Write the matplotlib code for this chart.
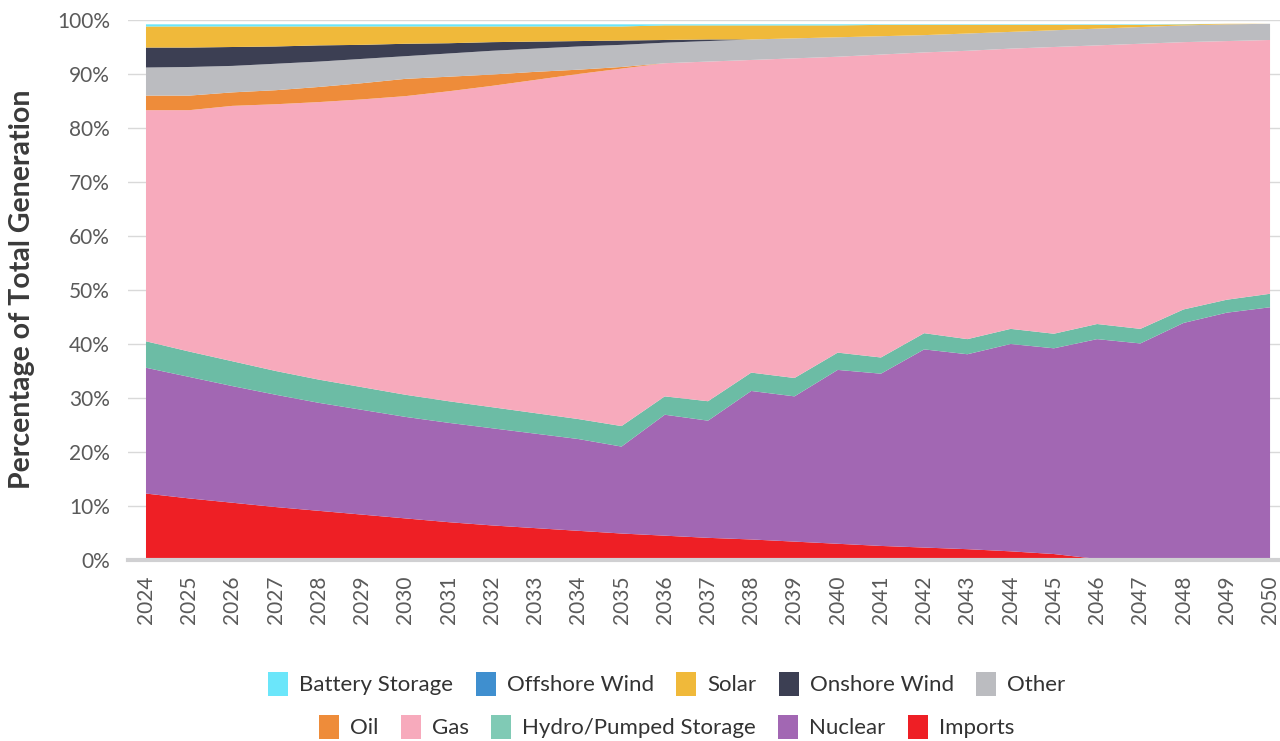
import numpy as np
import matplotlib
matplotlib.use("Agg")
import matplotlib.pyplot as plt
from matplotlib.patches import Patch

plt.rcParams['font.family'] = ['Lato', 'DejaVu Sans']

# Share of total generation (%), 2024-2050
years = list(range(2024, 2051))

imports = [12.3, 11.4, 10.6, 9.8, 9.1, 8.4, 7.7, 7.0, 6.4, 5.9, 5.4, 4.9, 4.5, 4.1,
           3.8, 3.4, 3.0, 2.6, 2.3, 2.0, 1.6, 1.1, 0.2, 0.0, 0.0, 0.0, 0.0]
nuclear = [23.3, 22.5, 21.6, 20.8, 20.0, 19.4, 18.8, 18.4, 18.0, 17.5, 17.0, 16.1, 22.4, 21.7,
           27.5, 26.9, 32.2, 31.9, 36.7, 36.1, 38.4, 38.1, 40.7, 40.1, 43.9, 45.8, 46.8]
hydro = [4.9, 4.7, 4.6, 4.4, 4.3, 4.2, 4.1, 4.0, 3.9, 3.8, 3.7, 3.8, 3.4, 3.6,
         3.4, 3.4, 3.2, 3.0, 3.0, 2.8, 2.8, 2.7, 2.8, 2.7, 2.5, 2.4, 2.5]
gas = [42.8, 44.7, 47.3, 49.4, 51.4, 53.3, 55.3, 57.4, 59.5, 61.7, 63.9, 66.2, 61.7, 62.9,
       57.9, 59.2, 54.8, 56.1, 52.0, 53.4, 51.9, 53.1, 51.6, 52.8, 49.5, 47.9, 47.0]
oil = [2.7, 2.7, 2.5, 2.6, 2.8, 3.0, 3.2, 2.7, 2.1, 1.5, 0.8, 0.3, 0.0, 0.0,
       0.0, 0.0, 0.0, 0.0, 0.0, 0.0, 0.0, 0.0, 0.0, 0.0, 0.0, 0.0, 0.0]
other = [5.2, 5.3, 4.9, 4.9, 4.7, 4.5, 4.2, 4.3, 4.4, 4.3, 4.3, 4.1, 3.8, 3.8,
         3.8, 3.7, 3.6, 3.4, 3.2, 3.2, 3.1, 3.1, 3.1, 3.1, 3.1, 3.1, 3.0]
onshore = [3.7, 3.6, 3.5, 3.2, 3.0, 2.6, 2.3, 1.9, 1.6, 1.3, 1.0, 0.8, 0.5, 0.3,
           0.0, 0.0, 0.0, 0.0, 0.0, 0.0, 0.0, 0.0, 0.0, 0.0, 0.0, 0.0, 0.0]
solar = [3.9, 3.9, 3.8, 3.7, 3.5, 3.4, 3.2, 3.1, 2.9, 2.8, 2.7, 2.6, 2.7, 2.6,
         2.6, 2.4, 2.2, 2.1, 1.9, 1.6, 1.3, 1.0, 0.7, 0.4, 0.2, 0.1, 0.0]
offshore = [0.0] * 27
battery = [0.4, 0.4, 0.4, 0.4, 0.4, 0.4, 0.4, 0.4, 0.4, 0.4, 0.4, 0.4, 0.2, 0.2,
           0.2, 0.2, 0.2, 0.1, 0.1, 0.1, 0.1, 0.1, 0.1, 0.1, 0.05, 0.0, 0.0]

# bottom to top
stack = [imports, nuclear, hydro, gas, oil, other, onshore, solar, offshore, battery]
colors = ['#ee1f25', '#a267b3', '#6cbca5', '#f7aabc', '#ee8c3a',
          '#bbbcc0', '#3c3f53', '#f0b93a', '#3f8fcf', '#6be6fa']
legend_colors = {'Battery Storage': '#6be6fa', 'Offshore Wind': '#3f8fcf', 'Solar': '#f0b93a',
                 'Onshore Wind': '#3c3f53', 'Other': '#bbbcc0', 'Oil': '#ee8c3a',
                 'Gas': '#f7aabc', 'Hydro/Pumped Storage': '#80cab5', 'Nuclear': '#a267b3',
                 'Imports': '#ee1f25'}
row1 = ['Battery Storage', 'Offshore Wind', 'Solar', 'Onshore Wind', 'Other']
row2 = ['Oil', 'Gas', 'Hydro/Pumped Storage', 'Nuclear', 'Imports']

fig = plt.figure(figsize=(12.8, 7.41), dpi=100)
ax = fig.add_axes([0.1, 0.2443, 0.9, 0.7287])

ax.stackplot(years, *stack, colors=colors, linewidth=0, zorder=2)

ax.set_xlim(2023.584, 2050.23)
ax.set_ylim(0, 100)
ax.set_xticks(years)
ax.set_xticklabels([str(y) for y in years], rotation=90, color='#5a5a5a', fontsize=15)
ax.set_yticks(range(0, 101, 10))
ax.set_yticklabels([f'{v}%' for v in range(0, 101, 10)], color='#5a5a5a', fontsize=15)
ax.tick_params(axis='both', length=0)
ax.tick_params(axis='y', pad=13)
ax.tick_params(axis='x', pad=11)

ax.grid(axis='y', color='#d9d9d9', linewidth=1, zorder=0)
ax.set_axisbelow(True)
for s in ['top', 'right', 'left']:
    ax.spines[s].set_visible(False)
ax.spines['bottom'].set_color('#d0d0d2')
ax.spines['bottom'].set_linewidth(3)
ax.spines['bottom'].set_zorder(3)

fig.text(0.017, 0.61, 'Percentage of Total Generation', rotation=90, ha='center', va='center',
         fontsize=20.5, fontweight='bold', color='#3a3a3a')

for names, ypos in [(row1, 0.077), (row2, 0.019)]:
    handles = [Patch(facecolor=legend_colors[n], label=n) for n in names]
    leg = fig.legend(handles=handles, loc='center', bbox_to_anchor=(0.521, ypos), ncol=5,
                     frameon=False, fontsize=16, handlelength=0.9, handleheight=1.3,
                     handletextpad=0.5, columnspacing=1.0)
    for t in leg.get_texts():
        t.set_color('#333333')

fig.savefig('out.png', dpi=100)
